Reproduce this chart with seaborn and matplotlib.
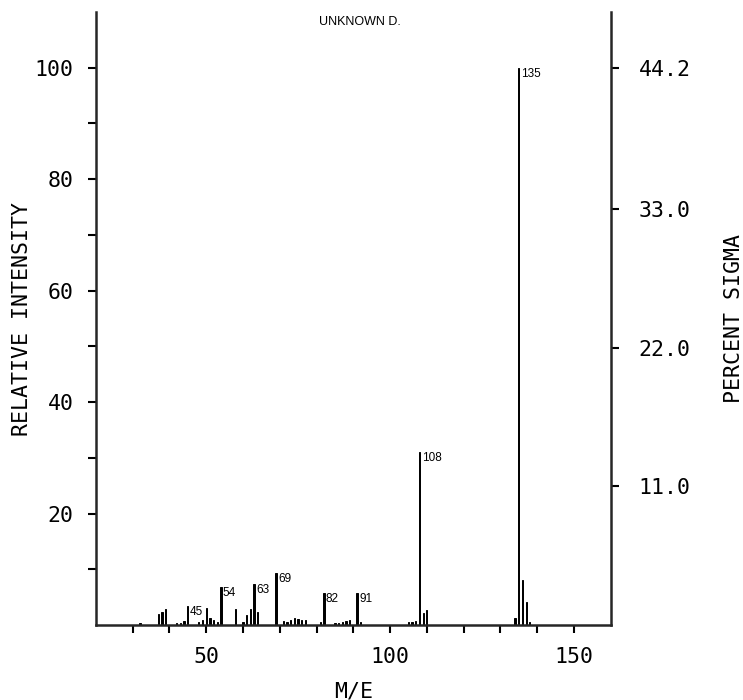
import matplotlib
matplotlib.use("Agg")
import matplotlib.pyplot as plt
import pandas as pd
import seaborn as sns

# mass spectrum of "unknown D"
mz = [32, 37, 38, 39, 42, 43, 44, 45, 48, 49, 50, 51, 52, 53, 54, 58,
      60, 61, 62, 63, 64, 69, 71, 72, 73, 74, 75, 76, 77, 81, 82,
      85, 86, 87, 88, 89, 91, 92, 105, 106, 107, 108, 109, 110,
      134, 135, 136, 137, 138]
intensity = [0.4, 2.0, 2.4, 2.8, 0.4, 0.3, 0.7, 3.4, 0.5, 0.9, 3.0, 1.3, 0.9, 0.6, 6.8, 2.8,
             0.6, 1.8, 2.8, 7.3, 2.3, 9.3, 0.7, 0.5, 1.0, 1.3, 1.1, 0.9, 1.0, 0.5, 5.8,
             0.3, 0.4, 0.6, 0.8, 0.9, 5.8, 0.5, 0.5, 0.6, 0.8, 31.0, 2.2, 2.7,
             1.2, 100.0, 8.1, 4.2, 0.5]
labeled_peaks = [45, 54, 63, 69, 82, 91, 108, 135]

x_ticks = [50, 100, 150]
x_minor = [30, 40, 60, 70, 80, 90, 110, 120, 130, 140]
y_ticks = [20, 40, 60, 80, 100]
y_minor = [10, 30, 50, 70, 90]
sigma_ticks = [11.0, 22.0, 33.0, 44.2]
sigma_at_100 = 44.2

sns.set_theme(style="ticks")
plt.rcParams['font.family'] = ['DejaVu Sans Mono']
plt.rcParams['text.color'] = 'black'
plt.rcParams['axes.labelcolor'] = 'black'
plt.rcParams['xtick.color'] = 'black'
plt.rcParams['ytick.color'] = 'black'

df = pd.DataFrame({'mz': mz, 'intensity': intensity})

fig = plt.figure(figsize=(7.43, 7.0), dpi=100)
ax = fig.add_axes([0.129, 0.107, 0.693, 0.876])
sns.barplot(data=df, x='mz', y='intensity', native_scale=True, width=0.35,
            color='black', saturation=1, edgecolor='black', linewidth=0.7, ax=ax)

ax.set_xlim(20, 160)
ax.set_ylim(0, 110)
ax.set_xticks(x_ticks)
ax.set_xticklabels([str(v) for v in x_ticks])
ax.set_xticks(x_minor, minor=True)
ax.set_yticks(y_ticks)
ax.set_yticklabels([str(v) for v in y_ticks])
ax.set_yticks(y_minor, minor=True)
ax.tick_params(axis='both', which='both', direction='out', length=6, width=1.5,
               labelsize=15.5, pad=10)
ax.set_xlabel("M/E", fontsize=15.5, labelpad=10)
ax.set_ylabel("RELATIVE INTENSITY", fontsize=15.5, labelpad=2)

for side in ['left', 'bottom']:
    ax.spines[side].set_linewidth(1.8)
ax.spines['top'].set_visible(False)
ax.spines['right'].set_visible(False)

for m, v in zip(mz, intensity):
    if m in labeled_peaks:
        ax.annotate(str(m), (m, v), xytext=(1.5, 0), textcoords='offset points',
                    ha='left', va='top', fontsize=8.5, family='Liberation Sans')

ax2 = ax.twinx()
ax2.set_ylim(0, 110 * sigma_at_100 / 100)
ax2.set_yticks(sigma_ticks)
ax2.set_yticklabels([f"{v:.1f}" for v in sigma_ticks])
ax2.tick_params(axis='y', direction='out', length=6, width=1.5, labelsize=15.5, pad=14)
ax2.set_ylabel("PERCENT SIGMA", fontsize=15.5, labelpad=24)
for side in ['top', 'left', 'bottom']:
    ax2.spines[side].set_visible(False)
ax2.spines['right'].set_linewidth(1.8)

fig.text(0.485, 0.968, "UNKNOWN D.", ha='center', va='center',
         fontsize=9, family='Liberation Sans')

fig.savefig("out.png", dpi=100)
